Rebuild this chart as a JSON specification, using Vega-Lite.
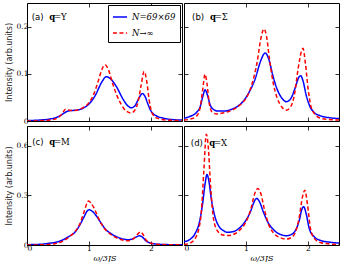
{
"$schema":"https://vega.github.io/schema/vega-lite/v6.json",
"padding":{"left":4,"top":2,"right":2,"bottom":2},
"background":"white",
"config":{
 "view":{"stroke":"#000","strokeWidth":1},
 "axis":{"domain":false,"grid":false,"tickColor":"#000","tickSize":-4,"tickWidth":0.8,"labelFont":"DejaVu Serif","labelFontSize":7.5,"labelColor":"#000","labelPadding":3,"titleFont":"DejaVu Sans","titleFontSize":8,"titleFontWeight":"normal","titleColor":"#222"},
 "legend":{"orient":"top-right","offset":2,"fillColor":"white","strokeColor":"#000","padding":4,"symbolType":"stroke","symbolSize":200,"symbolStrokeWidth":1.5,"labelFont":"DejaVu Serif","labelFontStyle":"italic","labelFontSize":8.5,"labelColor":"#000","rowPadding":3,"cornerRadius":0}
},
"datasets":{
 "one":[{"k":1}],
 "a":[
  {"s":"N=69×69","x":0,"v":0.001},{"s":"N=69×69","x":0.2,"v":0.002},{"s":"N=69×69","x":0.4,"v":0.005},{"s":"N=69×69","x":0.5,"v":0.009},{"s":"N=69×69","x":0.58,"v":0.015},{"s":"N=69×69","x":0.64,"v":0.02},{"s":"N=69×69","x":0.7,"v":0.022},{"s":"N=69×69","x":0.8,"v":0.023},{"s":"N=69×69","x":0.9,"v":0.027},{"s":"N=69×69","x":1.0,"v":0.036},{"s":"N=69×69","x":1.1,"v":0.054},{"s":"N=69×69","x":1.2,"v":0.081},{"s":"N=69×69","x":1.28,"v":0.094},{"s":"N=69×69","x":1.35,"v":0.089},{"s":"N=69×69","x":1.45,"v":0.071},{"s":"N=69×69","x":1.55,"v":0.046},{"s":"N=69×69","x":1.62,"v":0.033},{"s":"N=69×69","x":1.68,"v":0.028},{"s":"N=69×69","x":1.74,"v":0.032},{"s":"N=69×69","x":1.8,"v":0.047},{"s":"N=69×69","x":1.86,"v":0.058},{"s":"N=69×69","x":1.9,"v":0.053},{"s":"N=69×69","x":1.95,"v":0.036},{"s":"N=69×69","x":2.0,"v":0.021},{"s":"N=69×69","x":2.1,"v":0.01},{"s":"N=69×69","x":2.2,"v":0.006},{"s":"N=69×69","x":2.35,"v":0.003},{"s":"N=69×69","x":2.5,"v":0.002},
  {"s":"N→∞","x":0,"v":0.0},{"s":"N→∞","x":0.3,"v":0.001},{"s":"N→∞","x":0.45,"v":0.004},{"s":"N→∞","x":0.52,"v":0.009},{"s":"N→∞","x":0.57,"v":0.016},{"s":"N→∞","x":0.62,"v":0.025},{"s":"N→∞","x":0.66,"v":0.024},{"s":"N→∞","x":0.72,"v":0.022},{"s":"N→∞","x":0.8,"v":0.023},{"s":"N→∞","x":0.9,"v":0.028},{"s":"N→∞","x":1.0,"v":0.039},{"s":"N→∞","x":1.08,"v":0.058},{"s":"N→∞","x":1.15,"v":0.085},{"s":"N→∞","x":1.21,"v":0.11},{"s":"N→∞","x":1.26,"v":0.119},{"s":"N→∞","x":1.31,"v":0.11},{"s":"N→∞","x":1.38,"v":0.08},{"s":"N→∞","x":1.45,"v":0.054},{"s":"N→∞","x":1.52,"v":0.035},{"s":"N→∞","x":1.6,"v":0.021},{"s":"N→∞","x":1.68,"v":0.017},{"s":"N→∞","x":1.74,"v":0.023},{"s":"N→∞","x":1.79,"v":0.04},{"s":"N→∞","x":1.84,"v":0.075},{"s":"N→∞","x":1.89,"v":0.105},{"s":"N→∞","x":1.93,"v":0.085},{"s":"N→∞","x":1.97,"v":0.045},{"s":"N→∞","x":2.02,"v":0.016},{"s":"N→∞","x":2.1,"v":0.006},{"s":"N→∞","x":2.25,"v":0.002},{"s":"N→∞","x":2.5,"v":0.001}
 ],
 "b":[
  {"s":"N=69×69","x":0,"v":0.006},{"s":"N=69×69","x":0.1,"v":0.01},{"s":"N=69×69","x":0.2,"v":0.018},{"s":"N=69×69","x":0.26,"v":0.03},{"s":"N=69×69","x":0.3,"v":0.05},{"s":"N=69×69","x":0.34,"v":0.066},{"s":"N=69×69","x":0.38,"v":0.054},{"s":"N=69×69","x":0.42,"v":0.035},{"s":"N=69×69","x":0.48,"v":0.024},{"s":"N=69×69","x":0.55,"v":0.021},{"s":"N=69×69","x":0.65,"v":0.021},{"s":"N=69×69","x":0.75,"v":0.024},{"s":"N=69×69","x":0.85,"v":0.03},{"s":"N=69×69","x":0.95,"v":0.041},{"s":"N=69×69","x":1.05,"v":0.061},{"s":"N=69×69","x":1.15,"v":0.09},{"s":"N=69×69","x":1.23,"v":0.125},{"s":"N=69×69","x":1.31,"v":0.144},{"s":"N=69×69","x":1.37,"v":0.13},{"s":"N=69×69","x":1.43,"v":0.098},{"s":"N=69×69","x":1.5,"v":0.068},{"s":"N=69×69","x":1.57,"v":0.05},{"s":"N=69×69","x":1.65,"v":0.041},{"s":"N=69×69","x":1.72,"v":0.047},{"s":"N=69×69","x":1.79,"v":0.069},{"s":"N=69×69","x":1.85,"v":0.092},{"s":"N=69×69","x":1.88,"v":0.096},{"s":"N=69×69","x":1.92,"v":0.085},{"s":"N=69×69","x":1.97,"v":0.055},{"s":"N=69×69","x":2.03,"v":0.031},{"s":"N=69×69","x":2.1,"v":0.018},{"s":"N=69×69","x":2.2,"v":0.011},{"s":"N=69×69","x":2.35,"v":0.007},{"s":"N=69×69","x":2.5,"v":0.005},
  {"s":"N→∞","x":0,"v":0.002},{"s":"N→∞","x":0.1,"v":0.004},{"s":"N→∞","x":0.2,"v":0.01},{"s":"N→∞","x":0.26,"v":0.028},{"s":"N→∞","x":0.3,"v":0.065},{"s":"N→∞","x":0.34,"v":0.099},{"s":"N→∞","x":0.37,"v":0.08},{"s":"N→∞","x":0.41,"v":0.035},{"s":"N→∞","x":0.46,"v":0.018},{"s":"N→∞","x":0.53,"v":0.015},{"s":"N→∞","x":0.62,"v":0.017},{"s":"N→∞","x":0.72,"v":0.02},{"s":"N→∞","x":0.82,"v":0.026},{"s":"N→∞","x":0.92,"v":0.036},{"s":"N→∞","x":1.02,"v":0.052},{"s":"N→∞","x":1.1,"v":0.08},{"s":"N→∞","x":1.18,"v":0.125},{"s":"N→∞","x":1.24,"v":0.175},{"s":"N→∞","x":1.29,"v":0.195},{"s":"N→∞","x":1.33,"v":0.18},{"s":"N→∞","x":1.38,"v":0.13},{"s":"N→∞","x":1.44,"v":0.08},{"s":"N→∞","x":1.5,"v":0.05},{"s":"N→∞","x":1.57,"v":0.031},{"s":"N→∞","x":1.65,"v":0.023},{"s":"N→∞","x":1.72,"v":0.03},{"s":"N→∞","x":1.78,"v":0.055},{"s":"N→∞","x":1.84,"v":0.11},{"s":"N→∞","x":1.9,"v":0.15},{"s":"N→∞","x":1.92,"v":0.154},{"s":"N→∞","x":1.96,"v":0.12},{"s":"N→∞","x":2.0,"v":0.07},{"s":"N→∞","x":2.05,"v":0.03},{"s":"N→∞","x":2.12,"v":0.013},{"s":"N→∞","x":2.2,"v":0.006},{"s":"N→∞","x":2.35,"v":0.003},{"s":"N→∞","x":2.5,"v":0.002}
 ],
 "c":[
  {"s":"N=69×69","x":0,"v":0.002},{"s":"N=69×69","x":0.2,"v":0.004},{"s":"N=69×69","x":0.35,"v":0.01},{"s":"N=69×69","x":0.5,"v":0.02},{"s":"N=69×69","x":0.6,"v":0.035},{"s":"N=69×69","x":0.7,"v":0.057},{"s":"N=69×69","x":0.77,"v":0.076},{"s":"N=69×69","x":0.85,"v":0.12},{"s":"N=69×69","x":0.92,"v":0.17},{"s":"N=69×69","x":0.97,"v":0.205},{"s":"N=69×69","x":1.0,"v":0.213},{"s":"N=69×69","x":1.05,"v":0.205},{"s":"N=69×69","x":1.12,"v":0.175},{"s":"N=69×69","x":1.2,"v":0.13},{"s":"N=69×69","x":1.26,"v":0.098},{"s":"N=69×69","x":1.35,"v":0.07},{"s":"N=69×69","x":1.47,"v":0.046},{"s":"N=69×69","x":1.55,"v":0.036},{"s":"N=69×69","x":1.63,"v":0.032},{"s":"N=69×69","x":1.7,"v":0.037},{"s":"N=69×69","x":1.77,"v":0.05},{"s":"N=69×69","x":1.81,"v":0.056},{"s":"N=69×69","x":1.86,"v":0.048},{"s":"N=69×69","x":1.92,"v":0.025},{"s":"N=69×69","x":2.0,"v":0.011},{"s":"N=69×69","x":2.1,"v":0.005},{"s":"N=69×69","x":2.3,"v":0.002},{"s":"N=69×69","x":2.5,"v":0.001},
  {"s":"N→∞","x":0,"v":0.0},{"s":"N→∞","x":0.3,"v":0.002},{"s":"N→∞","x":0.45,"v":0.008},{"s":"N→∞","x":0.55,"v":0.018},{"s":"N→∞","x":0.65,"v":0.04},{"s":"N→∞","x":0.75,"v":0.072},{"s":"N→∞","x":0.85,"v":0.125},{"s":"N→∞","x":0.92,"v":0.2},{"s":"N→∞","x":0.97,"v":0.255},{"s":"N→∞","x":0.99,"v":0.266},{"s":"N→∞","x":1.03,"v":0.255},{"s":"N→∞","x":1.08,"v":0.225},{"s":"N→∞","x":1.15,"v":0.165},{"s":"N→∞","x":1.22,"v":0.115},{"s":"N→∞","x":1.3,"v":0.08},{"s":"N→∞","x":1.4,"v":0.052},{"s":"N→∞","x":1.5,"v":0.035},{"s":"N→∞","x":1.6,"v":0.025},{"s":"N→∞","x":1.68,"v":0.03},{"s":"N→∞","x":1.75,"v":0.05},{"s":"N→∞","x":1.8,"v":0.072},{"s":"N→∞","x":1.83,"v":0.08},{"s":"N→∞","x":1.87,"v":0.065},{"s":"N→∞","x":1.92,"v":0.03},{"s":"N→∞","x":2.0,"v":0.01},{"s":"N→∞","x":2.15,"v":0.003},{"s":"N→∞","x":2.5,"v":0.001}
 ],
 "d":[
  {"s":"N=69×69","x":0,"v":0.02},{"s":"N=69×69","x":0.1,"v":0.035},{"s":"N=69×69","x":0.18,"v":0.07},{"s":"N=69×69","x":0.25,"v":0.14},{"s":"N=69×69","x":0.3,"v":0.25},{"s":"N=69×69","x":0.34,"v":0.37},{"s":"N=69×69","x":0.37,"v":0.426},{"s":"N=69×69","x":0.4,"v":0.39},{"s":"N=69×69","x":0.44,"v":0.28},{"s":"N=69×69","x":0.5,"v":0.17},{"s":"N=69×69","x":0.56,"v":0.115},{"s":"N=69×69","x":0.63,"v":0.088},{"s":"N=69×69","x":0.7,"v":0.077},{"s":"N=69×69","x":0.8,"v":0.082},{"s":"N=69×69","x":0.9,"v":0.105},{"s":"N=69×69","x":1.0,"v":0.15},{"s":"N=69×69","x":1.07,"v":0.2},{"s":"N=69×69","x":1.13,"v":0.26},{"s":"N=69×69","x":1.17,"v":0.282},{"s":"N=69×69","x":1.22,"v":0.26},{"s":"N=69×69","x":1.28,"v":0.2},{"s":"N=69×69","x":1.35,"v":0.14},{"s":"N=69×69","x":1.45,"v":0.09},{"s":"N=69×69","x":1.55,"v":0.065},{"s":"N=69×69","x":1.65,"v":0.056},{"s":"N=69×69","x":1.73,"v":0.063},{"s":"N=69×69","x":1.8,"v":0.09},{"s":"N=69×69","x":1.86,"v":0.15},{"s":"N=69×69","x":1.9,"v":0.215},{"s":"N=69×69","x":1.93,"v":0.232},{"s":"N=69×69","x":1.97,"v":0.19},{"s":"N=69×69","x":2.02,"v":0.1},{"s":"N=69×69","x":2.1,"v":0.05},{"s":"N=69×69","x":2.2,"v":0.028},{"s":"N=69×69","x":2.35,"v":0.017},{"s":"N=69×69","x":2.5,"v":0.012},
  {"s":"N→∞","x":0,"v":0.003},{"s":"N→∞","x":0.1,"v":0.012},{"s":"N→∞","x":0.18,"v":0.04},{"s":"N→∞","x":0.24,"v":0.1},{"s":"N→∞","x":0.28,"v":0.2},{"s":"N→∞","x":0.32,"v":0.45},{"s":"N→∞","x":0.36,"v":0.67},{"s":"N→∞","x":0.39,"v":0.6},{"s":"N→∞","x":0.43,"v":0.35},{"s":"N→∞","x":0.48,"v":0.15},{"s":"N→∞","x":0.55,"v":0.08},{"s":"N→∞","x":0.63,"v":0.06},{"s":"N→∞","x":0.72,"v":0.057},{"s":"N→∞","x":0.82,"v":0.068},{"s":"N→∞","x":0.92,"v":0.098},{"s":"N→∞","x":1.0,"v":0.14},{"s":"N→∞","x":1.08,"v":0.22},{"s":"N→∞","x":1.14,"v":0.31},{"s":"N→∞","x":1.19,"v":0.342},{"s":"N→∞","x":1.24,"v":0.31},{"s":"N→∞","x":1.3,"v":0.21},{"s":"N→∞","x":1.37,"v":0.12},{"s":"N→∞","x":1.45,"v":0.07},{"s":"N→∞","x":1.55,"v":0.045},{"s":"N→∞","x":1.65,"v":0.036},{"s":"N→∞","x":1.73,"v":0.045},{"s":"N→∞","x":1.8,"v":0.08},{"s":"N→∞","x":1.86,"v":0.17},{"s":"N→∞","x":1.91,"v":0.29},{"s":"N→∞","x":1.95,"v":0.332},{"s":"N→∞","x":1.99,"v":0.25},{"s":"N→∞","x":2.04,"v":0.1},{"s":"N→∞","x":2.1,"v":0.04},{"s":"N→∞","x":2.2,"v":0.015},{"s":"N→∞","x":2.35,"v":0.006},{"s":"N→∞","x":2.5,"v":0.003}
 ]
},
"columns":2,
"spacing":0,
"align":"each",
"resolve":{"scale":{"color":"independent","strokeDash":"independent"}},
"concat":[
 {"width":155,"height":118,
  "layer":[
   {"data":{"name":"a"},"mark":{"type":"line","interpolate":"monotone","strokeWidth":1.5,"clip":true},
    "encoding":{
     "x":{"field":"x","type":"quantitative","scale":{"domain":[0,2.5],"nice":false},"axis":{"orient":"bottom","values":[0,1,2],"labels":false,"title":null}},
     "y":{"field":"v","type":"quantitative","scale":{"domain":[0,0.25],"nice":false},"axis":{"orient":"left","values":[0,0.1,0.2],"format":"~g","title":"Intensity (arb.units)","titlePadding":3}},
     "color":{"field":"s","type":"nominal","sort":null,"scale":{"domain":["N=69×69","N→∞"],"range":["#0000ff","#ff0000"]},"legend":{"title":null}},
     "strokeDash":{"field":"s","type":"nominal","sort":null,"scale":{"domain":["N=69×69","N→∞"],"range":[[1,0],[4,2.5]]},"legend":{"title":null}}
    }},
   {"data":{"name":"one"},"mark":{"type":"text","text":"(a)","align":"left","baseline":"middle","font":"DejaVu Sans","fontSize":8.5,"color":"#000"},
    "encoding":{"x":{"datum":0.075,"type":"quantitative","axis":{"orient":"top","values":[0,1,2],"labels":false,"title":null}},"y":{"datum":0.221,"type":"quantitative","axis":{"orient":"right","values":[0,0.1,0.2],"labels":false,"title":null}}}},
   {"data":{"name":"one"},"mark":{"type":"text","text":"q","align":"left","baseline":"middle","font":"DejaVu Serif","fontWeight":"bold","fontSize":8.5,"color":"#000"},
    "encoding":{"x":{"datum":0.36,"type":"quantitative","axis":null},"y":{"datum":0.221,"type":"quantitative","axis":null}}},
   {"data":{"name":"one"},"mark":{"type":"text","text":"=Y","align":"left","baseline":"middle","font":"DejaVu Serif","fontSize":8.5,"color":"#000"},
    "encoding":{"x":{"datum":0.435,"type":"quantitative","axis":null},"y":{"datum":0.221,"type":"quantitative","axis":null}}}
  ],
  "resolve":{"axis":{"x":"independent","y":"independent"}}
 },
 {"width":155,"height":118,
  "layer":[
   {"data":{"name":"b"},"mark":{"type":"line","interpolate":"monotone","strokeWidth":1.5,"clip":true},
    "encoding":{
     "x":{"field":"x","type":"quantitative","scale":{"domain":[0,2.5],"nice":false},"axis":{"orient":"bottom","values":[0,1,2],"labels":false,"title":null}},
     "y":{"field":"v","type":"quantitative","scale":{"domain":[0,0.25],"nice":false},"axis":{"orient":"left","values":[0,0.1,0.2],"labels":false,"title":null}},
     "color":{"field":"s","type":"nominal","sort":null,"scale":{"domain":["N=69×69","N→∞"],"range":["#0000ff","#ff0000"]},"legend":null},
     "strokeDash":{"field":"s","type":"nominal","sort":null,"scale":{"domain":["N=69×69","N→∞"],"range":[[1,0],[4,2.5]]},"legend":null}
    }},
   {"data":{"name":"one"},"mark":{"type":"text","text":"(b)","align":"left","baseline":"middle","font":"DejaVu Sans","fontSize":8.5,"color":"#000"},
    "encoding":{"x":{"datum":0.13,"type":"quantitative","axis":{"orient":"top","values":[0,1,2],"labels":false,"title":null}},"y":{"datum":0.221,"type":"quantitative","axis":{"orient":"right","values":[0,0.1,0.2],"labels":false,"title":null}}}},
   {"data":{"name":"one"},"mark":{"type":"text","text":"q","align":"left","baseline":"middle","font":"DejaVu Serif","fontWeight":"bold","fontSize":8.5,"color":"#000"},
    "encoding":{"x":{"datum":0.42,"type":"quantitative","axis":null},"y":{"datum":0.221,"type":"quantitative","axis":null}}},
   {"data":{"name":"one"},"mark":{"type":"text","text":"=Σ","align":"left","baseline":"middle","font":"DejaVu Serif","fontSize":8.5,"color":"#000"},
    "encoding":{"x":{"datum":0.495,"type":"quantitative","axis":null},"y":{"datum":0.221,"type":"quantitative","axis":null}}}
  ],
  "resolve":{"axis":{"x":"independent","y":"independent"}}
 },
 {"width":155,"height":119,
  "layer":[
   {"data":{"name":"c"},"mark":{"type":"line","interpolate":"monotone","strokeWidth":1.5,"clip":true},
    "encoding":{
     "x":{"field":"x","type":"quantitative","scale":{"domain":[0,2.5],"nice":false},"axis":{"orient":"bottom","values":[0,1,2],"format":"d","title":"ω/3JS","titleFont":"DejaVu Serif","titleFontStyle":"italic","titleFontSize":8,"titleColor":"#000","titlePadding":3}},
     "y":{"field":"v","type":"quantitative","scale":{"domain":[0,0.72],"nice":false},"axis":{"orient":"left","values":[0,0.3,0.6],"format":"~g","title":"Intensity (arb.units)","titlePadding":3}},
     "color":{"field":"s","type":"nominal","sort":null,"scale":{"domain":["N=69×69","N→∞"],"range":["#0000ff","#ff0000"]},"legend":null},
     "strokeDash":{"field":"s","type":"nominal","sort":null,"scale":{"domain":["N=69×69","N→∞"],"range":[[1,0],[4,2.5]]},"legend":null}
    }},
   {"data":{"name":"one"},"mark":{"type":"text","text":"(c)","align":"left","baseline":"middle","font":"DejaVu Sans","fontSize":8.5,"color":"#000"},
    "encoding":{"x":{"datum":0.085,"type":"quantitative","axis":{"orient":"top","values":[0,1,2],"labels":false,"title":null}},"y":{"datum":0.626,"type":"quantitative","axis":{"orient":"right","values":[0,0.3,0.6],"labels":false,"title":null}}}},
   {"data":{"name":"one"},"mark":{"type":"text","text":"q","align":"left","baseline":"middle","font":"DejaVu Serif","fontWeight":"bold","fontSize":8.5,"color":"#000"},
    "encoding":{"x":{"datum":0.36,"type":"quantitative","axis":null},"y":{"datum":0.626,"type":"quantitative","axis":null}}},
   {"data":{"name":"one"},"mark":{"type":"text","text":"=M","align":"left","baseline":"middle","font":"DejaVu Serif","fontSize":8.5,"color":"#000"},
    "encoding":{"x":{"datum":0.435,"type":"quantitative","axis":null},"y":{"datum":0.626,"type":"quantitative","axis":null}}}
  ],
  "resolve":{"axis":{"x":"independent","y":"independent"}}
 },
 {"width":155,"height":119,
  "layer":[
   {"data":{"name":"d"},"mark":{"type":"line","interpolate":"monotone","strokeWidth":1.5,"clip":true},
    "encoding":{
     "x":{"field":"x","type":"quantitative","scale":{"domain":[0,2.5],"nice":false},"axis":{"orient":"bottom","values":[0,1,2],"format":"d","title":"ω/3JS","titleFont":"DejaVu Serif","titleFontStyle":"italic","titleFontSize":8,"titleColor":"#000","titlePadding":3}},
     "y":{"field":"v","type":"quantitative","scale":{"domain":[0,0.72],"nice":false},"axis":{"orient":"left","values":[0,0.3,0.6],"labels":false,"title":null}},
     "color":{"field":"s","type":"nominal","sort":null,"scale":{"domain":["N=69×69","N→∞"],"range":["#0000ff","#ff0000"]},"legend":null},
     "strokeDash":{"field":"s","type":"nominal","sort":null,"scale":{"domain":["N=69×69","N→∞"],"range":[[1,0],[4,2.5]]},"legend":null}
    }},
   {"data":{"name":"one"},"mark":{"type":"text","text":"(d)","align":"left","baseline":"middle","font":"DejaVu Sans","fontSize":8.5,"color":"#000"},
    "encoding":{"x":{"datum":0.11,"type":"quantitative","axis":{"orient":"top","values":[0,1,2],"labels":false,"title":null}},"y":{"datum":0.62,"type":"quantitative","axis":{"orient":"right","values":[0,0.3,0.6],"labels":false,"title":null}}}},
   {"data":{"name":"one"},"mark":{"type":"text","text":"q","align":"left","baseline":"middle","font":"DejaVu Serif","fontWeight":"bold","fontSize":8.5,"color":"#000"},
    "encoding":{"x":{"datum":0.407,"type":"quantitative","axis":null},"y":{"datum":0.62,"type":"quantitative","axis":null}}},
   {"data":{"name":"one"},"mark":{"type":"text","text":"=X","align":"left","baseline":"middle","font":"DejaVu Serif","fontSize":8.5,"color":"#000"},
    "encoding":{"x":{"datum":0.482,"type":"quantitative","axis":null},"y":{"datum":0.62,"type":"quantitative","axis":null}}}
  ],
  "resolve":{"axis":{"x":"independent","y":"independent"}}
 }
]
}
